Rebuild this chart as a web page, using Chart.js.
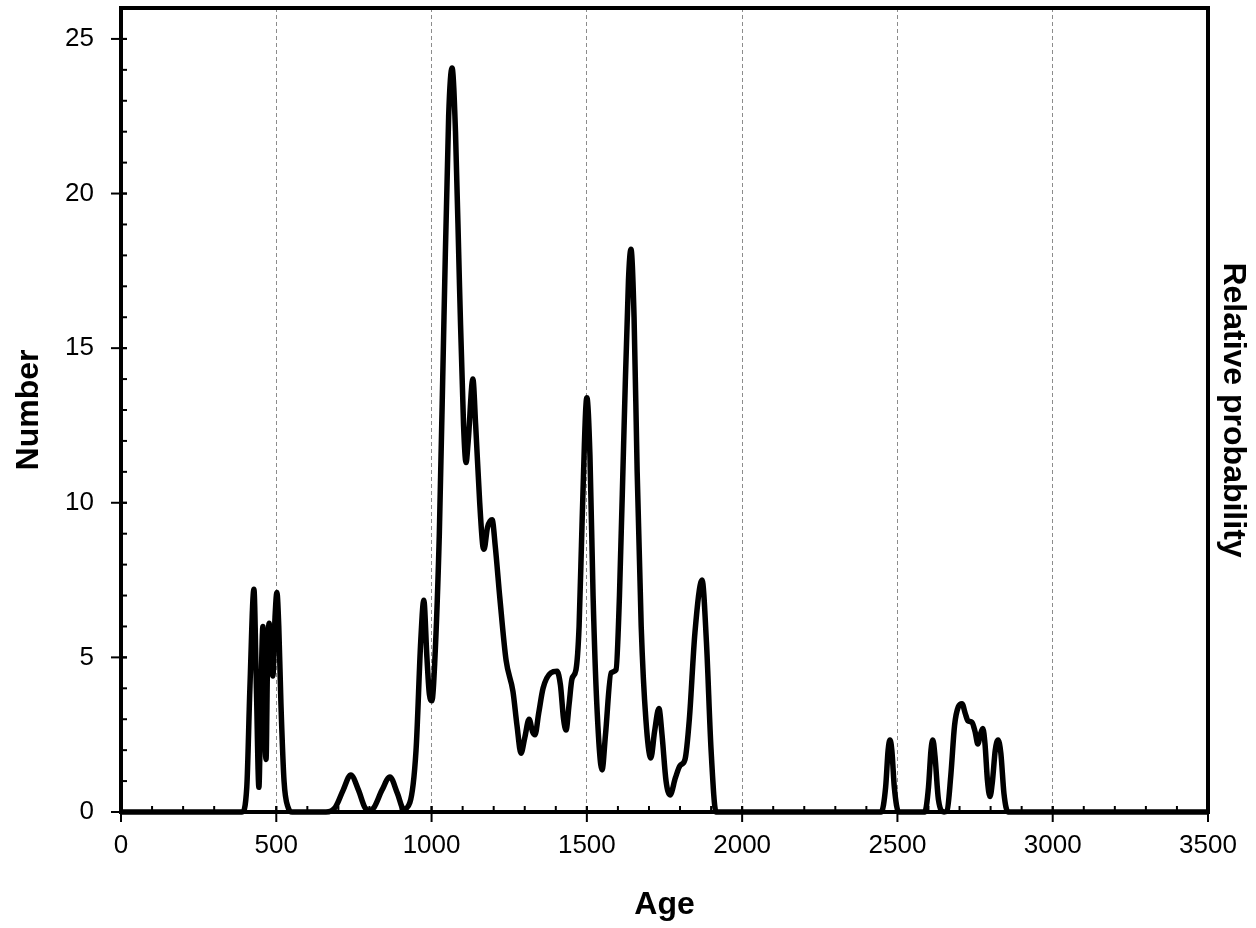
<!DOCTYPE html>
<html>
<head>
<meta charset="utf-8">
<script src="https://cdn.jsdelivr.net/npm/chart.js@4.4.1/dist/chart.umd.min.js"></script>
<style>
  html, body { margin: 0; padding: 0; background: #fff; }
  #wrap { width: 1256px; height: 928px; }
</style>
</head>
<body>
<div id="wrap"><canvas id="chart" width="1256" height="928"></canvas></div>
<script>
// Age (x) and Number (y) of the probability curve
const ages = [
  0, 390, 405, 415, 428, 436, 444, 450, 457, 462, 467, 472, 477, 483, 489, 496, 502, 508, 515, 525, 538, 551,
  660, 690, 715, 740, 765, 785, 800, 815, 840, 866, 890, 910, 930, 950, 965, 975, 985, 993, 1001,
  1010, 1025, 1040, 1055, 1066, 1077, 1090, 1103, 1111, 1118, 1133, 1142, 1155, 1165, 1169, 1180, 1195,
  1205, 1220, 1240, 1262, 1275, 1288, 1300, 1314, 1325, 1333, 1345, 1359, 1384, 1404, 1415, 1425, 1433,
  1443, 1452, 1465, 1475, 1485, 1500, 1510, 1520, 1532, 1549, 1560, 1578, 1594, 1605, 1620, 1634, 1642,
  1652, 1662, 1675, 1690, 1706, 1718, 1732, 1742, 1755, 1768, 1785, 1800, 1816, 1830, 1848, 1871, 1885,
  1900, 1916, 2448, 2462, 2470, 2476, 2482, 2490, 2504, 2588, 2600, 2608, 2614, 2621, 2632, 2650, 2660,
  2672, 2684, 2696, 2708, 2718, 2727, 2740, 2750, 2759, 2767, 2775, 2782, 2790, 2798, 2806, 2815, 2824,
  2833, 2843, 2856, 3500
];
const numbers = [
  0, 0, 0.8, 4, 7.2, 4, 0.8, 3.5, 6.0, 3, 1.7, 5, 6.1, 5, 4.4, 6.3, 7.1, 6, 3.5, 1, 0.15, 0,
  0, 0.15, 0.7, 1.2, 0.7, 0.15, 0.05, 0.15, 0.7, 1.13, 0.6, 0.1, 0.3, 2, 5.5, 6.85, 5, 3.8, 3.6,
  4.8, 9, 16, 22.5, 24.06, 22, 17, 12.5, 11.3, 12, 14.0, 12.5, 10, 8.6, 8.5, 9.2, 9.45,
  8.6, 6.9, 4.9, 3.9, 2.8, 1.9, 2.4, 3.0, 2.6, 2.5, 3.2, 4.0, 4.5, 4.55, 4.1, 3.0, 2.65,
  3.5, 4.3, 4.6, 6, 9.5, 13.4, 11.5, 7, 3.5, 1.36, 2.5, 4.5, 4.6, 7, 12.5, 17.2, 18.2,
  16, 11, 6, 3, 1.75, 2.6, 3.35, 2.5, 1, 0.55, 1.1, 1.5, 1.7, 3, 5.8, 7.5, 5.5,
  2, 0, 0, 0.8, 2, 2.33, 2, 0.8, 0, 0, 0.8, 2, 2.33, 1.8, 0.4, 0, 0.05,
  1.2, 2.8, 3.4, 3.5, 3.2, 2.95, 2.9, 2.6, 2.2, 2.5, 2.7, 2.2, 1.0, 0.5, 1.0, 2.0, 2.33,
  1.9, 0.6, 0, 0
];

const xTicks = [0, 500, 1000, 1500, 2000, 2500, 3000, 3500];
const yTicks = [0, 5, 10, 15, 20, 25];
const xMinorStep = 100;
const yMinorStep = 1;

const points = ages.map((a, i) => ({ x: a, y: numbers[i] }));

const tickFont = { family: 'Liberation Sans, Arial, sans-serif', size: 26 };
const titleFont = { family: 'Liberation Sans, Arial, sans-serif', size: 32, weight: 'bold' };

// Box frame plus Excel-style ticks (majors cross the axis, minors point inward)
const frameTicks = {
    id: 'frameTicks',
    afterDatasetsDraw(chart) {
        const { ctx, chartArea: a, scales } = chart;
        const x = scales.x, y = scales.y;
        ctx.save();
        ctx.strokeStyle = '#000';
        ctx.lineWidth = 2;
        const seg = (x1, y1, x2, y2) => {
            ctx.beginPath(); ctx.moveTo(x1, y1); ctx.lineTo(x2, y2); ctx.stroke();
        };
        for (let v = x.min; v <= x.max; v += xMinorStep) {
            const px = x.getPixelForValue(v);
            seg(px, a.bottom, px, a.bottom - 6);
        }
        xTicks.forEach(v => {
            const px = x.getPixelForValue(v);
            seg(px, a.bottom + 10, px, a.bottom - 6);
        });
        for (let v = y.min; v <= y.max; v += yMinorStep) {
            const py = y.getPixelForValue(v);
            seg(a.left, py, a.left + 6, py);
        }
        yTicks.forEach(v => {
            const py = y.getPixelForValue(v);
            seg(a.left - 10, py, a.left + 6, py);
        });
        ctx.lineWidth = 4;
        ctx.strokeRect(a.left, a.top, a.right - a.left, a.bottom - a.top);
        ctx.restore();
    }
};

new Chart(document.getElementById('chart').getContext('2d'), {
    type: 'line',
    data: {
        datasets: [{
            data: points,
            borderColor: '#000',
            borderWidth: 5.5,
            pointRadius: 0,
            fill: false,
            cubicInterpolationMode: 'monotone',
            clip: false
        }]
    },
    options: {
        responsive: false,
        animation: false,
        events: [],
        layout: { padding: { top: 8, left: 0, right: 0, bottom: 0 } },
        plugins: { legend: { display: false }, tooltip: { enabled: false } },
        scales: {
            x: {
                type: 'linear',
                min: 0,
                max: 3500,
                afterBuildTicks: s => { s.ticks = xTicks.map(v => ({ value: v })); },
                afterFit: s => { s.height = 116; },
                ticks: { color: '#000', font: tickFont, padding: 18, maxRotation: 0, callback: v => String(v) },
                grid: {
                    drawTicks: false,
                    color: c => (c.tick && c.tick.value > 0 && c.tick.value < 3500) ? '#8c8c8c' : 'rgba(0,0,0,0)',
                    lineWidth: 1
                },
                border: { display: false, dash: [4, 3] },
                title: { display: true, text: 'Age', color: '#000', font: titleFont, padding: { top: 0, bottom: 4 } }
            },
            y: {
                type: 'linear',
                position: 'left',
                min: 0,
                max: 26,
                afterBuildTicks: s => { s.ticks = yTicks.map(v => ({ value: v })); },
                afterFit: s => { s.width = 121; s.paddingTop = 0; s.paddingBottom = 0; },
                ticks: { color: '#000', font: tickFont, padding: 0, callback: v => String(v) },
                grid: {
                    display: true,
                    drawOnChartArea: false,
                    drawTicks: true,
                    tickLength: 27,
                    tickColor: 'rgba(0,0,0,0)'
                },
                border: { display: false },
                title: { display: true, text: 'Number', color: '#000', font: titleFont, padding: { top: 10, bottom: 0 } }
            },
            y2: {
                type: 'linear',
                position: 'right',
                min: 0,
                max: 26,
                afterFit: s => { s.width = 48; s.paddingTop = 0; s.paddingBottom = 0; },
                ticks: { display: false },
                grid: { display: false, drawTicks: false },
                border: { display: false },
                title: { display: true, text: 'Relative probability', color: '#000', font: titleFont, padding: { top: 4, bottom: 0 } }
            }
        }
    },
    plugins: [frameTicks]
});
</script>
</body>
</html>
